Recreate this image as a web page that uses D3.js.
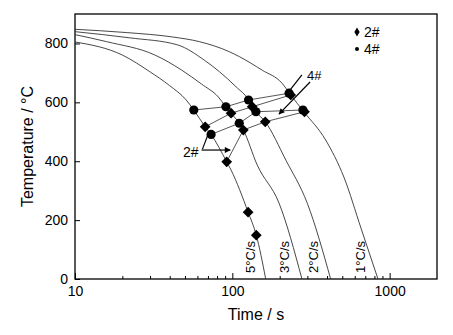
<!DOCTYPE html>
<html><head><meta charset="utf-8">
<script src="https://cdn.jsdelivr.net/npm/d3@7"></script>
<style>
body{margin:0;background:#fff}
svg{display:block}
text{font-family:"Liberation Sans",Arial,Helvetica,sans-serif;fill:#000}
</style>
</head><body>
<svg id="chart" width="453" height="335"></svg>
<script>
// ---------------- data ----------------
const rateLabels = ["1°C/s", "2°C/s", "3°C/s", "5°C/s"];
// cooling curves: [time (s), temperature (°C)]
const cool1 = [[10,848],[21.2,837],[41.7,822],[61.8,806],[95.6,772],[111,755],[155,709],[207,665],[235,625],[285,568],[392,472],[512,346],[660,170],[843,0]];
const cool2 = [[10,840],[22.3,819],[44.9,795],[66.5,743],[82.8,704],[105.5,653],[126.8,608],[133.8,585],[141.3,568],[161.9,534],[218.8,404],[299.7,257],[421.7,0]];
const cool3 = [[10,830],[15.9,806],[32.1,761],[47.5,710],[63.7,662],[81.5,618],[91.0,585],[98.2,563],[110.7,529],[117.5,506],[144,387],[198,258],[277,0]];
const cool5 = [[10,805],[20.1,760],[29.9,704],[39.9,657],[50.9,608],[56.9,574],[67.2,517],[73.3,491],[92.1,398],[98.2,370],[126,227],[142,149],[163,0]];
// transformation points
const start4  = [[56.9,574],[91.0,585],[126.8,608],[229.5,631]];
const finish4 = [[73.3,491],[110.7,529],[141.3,568],[281,574]];
const start2  = [[67.2,517],[98.2,563],[133.8,585],[235,625]];
const finish2 = [[92.1,398],[117.5,506],[161.9,534],[287.5,568]];
const extra2  = [[126,227],[142,149]];
// annotations (data units)
const arrows4 = [[[277,693],[220,625]], [[312,669],[198,560]]];
const arrows2 = [[[63.7,438],[97,438]], [[64.6,441],[71.5,503]]];
const note4 = [298.5, 676];
const note2 = [61, 414];
// ticks
const xMajor = [10, 100, 1000];
const xMinor = [20,30,40,50,60,70,80,90,200,300,400,500,600,700,800,900];
const yTicks = [0, 200, 400, 600, 800];
const seriesNames = ["2#", "4#"];

// ---------------- chart ----------------
const svg = d3.select("#chart");
const L = 75, R = 437, T = 14, B = 279;
const x = d3.scaleLog().domain([10, 2000]).range([L, R]);
const y = d3.scaleLinear().domain([0, 900]).range([B, T]);

svg.append("defs").append("marker")
  .attr("id","ah").attr("viewBox","0 0 10 10").attr("refX",9).attr("refY",5)
  .attr("markerWidth",7).attr("markerHeight",6).attr("markerUnits","userSpaceOnUse")
  .attr("orient","auto")
  .append("path").attr("d","M0,0 L10,5 L0,10 z").attr("fill","#000");

// axes
const gx = svg.append("g").attr("transform", `translate(0,${B})`)
  .call(d3.axisBottom(x).tickValues(xMajor).tickSize(-6).tickPadding(7).tickFormat(d3.format("d")));
const gxm = svg.append("g").attr("transform", `translate(0,${B})`)
  .call(d3.axisBottom(x).tickValues(xMinor).tickSize(-3).tickFormat(""));
const gy = svg.append("g").attr("transform", `translate(${L},0)`)
  .call(d3.axisLeft(y).tickValues(yTicks).tickSize(-5).tickPadding(7));
[gx, gxm, gy].forEach(g => {
  g.select(".domain").remove();
  g.selectAll("line").attr("stroke","#000").attr("stroke-width",1);
  g.selectAll("text").attr("font-size",14).attr("font-family",null);
  g.attr("font-family",null);
});

// frame
svg.append("rect").attr("x",L).attr("y",T).attr("width",R-L).attr("height",B-T)
  .attr("fill","none").attr("stroke","#000").attr("stroke-width",1.3);

// axis titles
svg.append("text").attr("x",(L+R)/2).attr("y",320).attr("text-anchor","middle")
  .attr("font-size",16).text("Time / s");
svg.append("text").attr("transform",`translate(33,${(T+B)/2}) rotate(-90)`)
  .attr("text-anchor","middle").attr("font-size",16).text("Temperature / °C");

const smooth = d3.line().x(d => x(d[0])).y(d => y(d[1])).curve(d3.curveMonotoneX);
const line = d3.line().x(d => x(d[0])).y(d => y(d[1]));
const plot = svg.append("g");

// cooling curves
const curves = [cool1, cool2, cool3, cool5];
plot.selectAll("path.cool").data(curves).join("path").attr("class","cool")
  .attr("d", smooth).attr("fill","none").attr("stroke","#333").attr("stroke-width",0.9);

// transformation lines
plot.selectAll("path.tr").data([start4, start2, finish4, finish2]).join("path").attr("class","tr")
  .attr("d", line).attr("fill","none").attr("stroke","#444").attr("stroke-width",0.9);

// curve labels (placed next to each curve at 75 °C)
function timeAt(curve, temp) {
  for (let i = 0; i < curve.length - 1; i++) {
    const a = curve[i], b = curve[i+1];
    if ((a[1] - temp) * (b[1] - temp) <= 0) {
      const f = (a[1] - temp) / (a[1] - b[1]);
      return Math.pow(10, Math.log10(a[0]) + f * (Math.log10(b[0]) - Math.log10(a[0])));
    }
  }
  return curve[curve.length-1][0];
}
curves.forEach((c, i) => {
  const px = x(timeAt(c, 75)) - 10.5, py = y(75);
  svg.append("text").attr("transform", `translate(${px},${py}) rotate(-90)`)
    .attr("text-anchor","middle").attr("dy","0.35em").attr("font-size",13).text(rateLabels[i]);
});

// markers
const diamond = d3.symbol().type(d3.symbolSquare).size(58);
const allDiamonds = start2.concat(finish2, extra2);
const allCircles = start4.concat(finish4);
plot.selectAll("circle.m4").data(allCircles).join("circle").attr("class","m4")
  .attr("cx", d => x(d[0])).attr("cy", d => y(d[1])).attr("r", 4.6).attr("fill","#000");
plot.selectAll("path.m2").data(allDiamonds).join("path").attr("class","m2")
  .attr("d", diamond).attr("transform", d => `translate(${x(d[0])},${y(d[1])}) rotate(45)`)
  .attr("fill","#000");

// annotations
arrows4.forEach((a, i) => {
  svg.append("line").attr("x1", x(a[0][0])).attr("y1", y(a[0][1]))
    .attr("x2", x(a[1][0])).attr("y2", y(a[1][1]))
    .attr("stroke","#000").attr("stroke-width",1.2)
    .attr("marker-end", i === 1 ? "url(#ah)" : null);
});
arrows2.forEach((a, i) => {
  svg.append("line").attr("x1", x(a[0][0])).attr("y1", y(a[0][1]))
    .attr("x2", x(a[1][0])).attr("y2", y(a[1][1]))
    .attr("stroke","#000").attr("stroke-width",1.2)
    .attr("marker-end", i === 0 ? "url(#ah)" : null);
});
svg.append("text").attr("x", x(note4[0])).attr("y", y(note4[1])).attr("font-size",13).text("4#");
svg.append("text").attr("x", x(note2[0])).attr("y", y(note2[1])).attr("text-anchor","end").attr("font-size",14).text("2#");

// legend
const lg = svg.append("g").attr("transform","translate(357,0)");
lg.append("path").attr("d", d3.symbol().type(d3.symbolDiamond).size(24)).attr("transform","translate(0,32)").attr("fill","#000");
lg.append("circle").attr("cx",0).attr("cy",49).attr("r",2).attr("fill","#000");
lg.append("text").attr("x",7).attr("y",37).attr("font-size",14).text(seriesNames[0]);
lg.append("text").attr("x",7).attr("y",54).attr("font-size",14).text(seriesNames[1]);
</script>
</body></html>
